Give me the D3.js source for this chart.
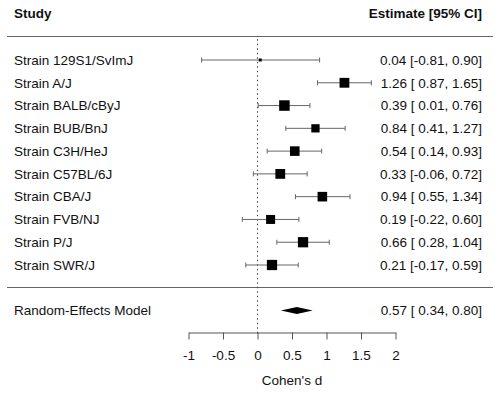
<!DOCTYPE html>
<html>
<head>
<meta charset="utf-8">
<script src="https://cdn.jsdelivr.net/npm/d3@7"></script>
<style>
  body { margin: 0; background: #fff; }
  svg text { font-family: "Liberation Sans", Arial, Helvetica, sans-serif; fill: #111; }
</style>
</head>
<body>
<div id="forest-chart"></div>
<script>
// study data (Cohen's d with 95% CI)
const studies = ["Strain 129S1/SvImJ", "Strain A/J", "Strain BALB/cByJ", "Strain BUB/BnJ",
    "Strain C3H/HeJ", "Strain C57BL/6J", "Strain CBA/J", "Strain FVB/NJ", "Strain P/J", "Strain SWR/J"];
const estimates = [0.04, 1.26, 0.39, 0.84, 0.54, 0.33, 0.94, 0.19, 0.66, 0.21];
const lowerCI = [-0.81, 0.87, 0.01, 0.41, 0.14, -0.06, 0.55, -0.22, 0.28, -0.17];
const upperCI = [0.90, 1.65, 0.76, 1.27, 0.93, 0.72, 1.34, 0.60, 1.04, 0.59];

const modelLabel = "Random-Effects Model";
const modelEstimate = 0.57;
const modelCI = [0.34, 0.80];

const xTicks = [-1, -0.5, 0, 0.5, 1, 1.5, 2];
const xLabel = "Cohen's d";

const width = 500, height = 396;
const k = studies.length;

let svg = d3.select("#forest-chart").append("svg")
    .attr("width", width)
    .attr("height", height);

// x scale for effect sizes
let x = d3.scaleLinear().domain([-1, 2]).range([188.5, 395.5]);
// row scale: top study is row k, bottom study row 1 (metafor style)
let y = d3.scaleLinear().domain([k, 1]).range([60, 265]);

// inverse-variance weights -> marker size
let weights = studies.map((s, i) => {
    let se = (upperCI[i] - lowerCI[i]) / (2 * 1.96);
    return 1 / (se * se);
});
let size = d3.scaleLinear().domain(d3.extent(weights)).range([3, 10.5]);

let fmt = d3.format(".2f");
let num = v => (v < 0 ? "-" + fmt(-v) : " " + fmt(v));
let ciText = (e, lo, hi) => fmt(e) + " [" + num(lo) + ", " + fmt(hi) + "]";

// headers
svg.append("text").attr("x", 14).attr("y", y(k + 2) - 1).attr("dy", "0.35em")
    .attr("font-size", 13.5).attr("font-weight", "bold").text("Study");
svg.append("text").attr("x", 482).attr("y", y(k + 2) - 1).attr("dy", "0.35em")
    .attr("text-anchor", "end").attr("font-size", 13.5).attr("font-weight", "bold")
    .text("Estimate [95% CI]");

// separator lines
[k + 1, 0].forEach(r => {
    svg.append("line")
        .attr("x1", 7).attr("x2", 493)
        .attr("y1", Math.round(y(r)) - 0.5).attr("y2", Math.round(y(r)) - 0.5)
        .attr("stroke", "#666").attr("stroke-width", 1);
});

// reference line at 0
svg.append("line")
    .attr("x1", x(0)).attr("x2", x(0))
    .attr("y1", y(k + 1) + 2).attr("y2", y(-2))
    .attr("stroke", "#444").attr("stroke-width", 1)
    .attr("stroke-dasharray", "1.5,3");

let rows = svg.selectAll("g.study")
    .data(studies)
    .enter()
    .append("g")
    .attr("class", "study")
    .attr("transform", (d, i) => "translate(0," + y(k - i) + ")");

rows.append("text")
    .attr("x", 14).attr("dy", "0.35em")
    .attr("font-size", 13.5)
    .text(d => d);

rows.append("line")
    .attr("x1", (d, i) => x(lowerCI[i])).attr("x2", (d, i) => x(upperCI[i]))
    .attr("stroke", "#666").attr("stroke-width", 1);
rows.append("line")
    .attr("x1", (d, i) => x(lowerCI[i])).attr("x2", (d, i) => x(lowerCI[i]))
    .attr("y1", -2.5).attr("y2", 2.5)
    .attr("stroke", "#666");
rows.append("line")
    .attr("x1", (d, i) => x(upperCI[i])).attr("x2", (d, i) => x(upperCI[i]))
    .attr("y1", -2.5).attr("y2", 2.5)
    .attr("stroke", "#666");

rows.append("rect")
    .attr("x", (d, i) => x(estimates[i]) - size(weights[i]) / 2)
    .attr("y", (d, i) => -size(weights[i]) / 2)
    .attr("width", (d, i) => size(weights[i]))
    .attr("height", (d, i) => size(weights[i]))
    .attr("fill", "#000");

rows.append("text")
    .attr("x", 482).attr("dy", "0.35em")
    .attr("text-anchor", "end")
    .attr("font-size", 13.5)
    .text((d, i) => ciText(estimates[i], lowerCI[i], upperCI[i]));

// summary diamond
let yRE = y(-1);
svg.append("path")
    .attr("d", "M" + x(modelCI[0]) + "," + yRE +
        "L" + x(modelEstimate) + "," + (yRE - 3.5) +
        "L" + x(modelCI[1]) + "," + yRE +
        "L" + x(modelEstimate) + "," + (yRE + 3.5) + "Z")
    .attr("fill", "#000");
svg.append("text").attr("x", 14).attr("y", yRE).attr("dy", "0.35em")
    .attr("font-size", 13.5).text(modelLabel);
svg.append("text").attr("x", 482).attr("y", yRE).attr("dy", "0.35em")
    .attr("text-anchor", "end").attr("font-size", 13.5)
    .text(ciText(modelEstimate, modelCI[0], modelCI[1]));

// x axis
let axis = svg.append("g")
    .attr("transform", "translate(0," + (Math.round(y(-2)) - 0.5) + ")")
    .call(d3.axisBottom(x)
        .tickValues(xTicks)
        .tickSize(7)
        .tickSizeOuter(0)
        .tickPadding(11)
        .tickFormat(d => String(d)));
axis.select(".domain").attr("stroke", "#555");
axis.selectAll(".tick line").attr("stroke", "#555");
axis.selectAll(".tick text")
    .attr("font-size", 13.5)
    .attr("font-family", "Liberation Sans, Arial, sans-serif")
    .attr("fill", "#111");

svg.append("text")
    .attr("x", (x.range()[0] + x.range()[1]) / 2)
    .attr("y", 380).attr("dy", "0.35em")
    .attr("text-anchor", "middle")
    .attr("font-size", 13.5)
    .text(xLabel);
</script>
</body>
</html>
